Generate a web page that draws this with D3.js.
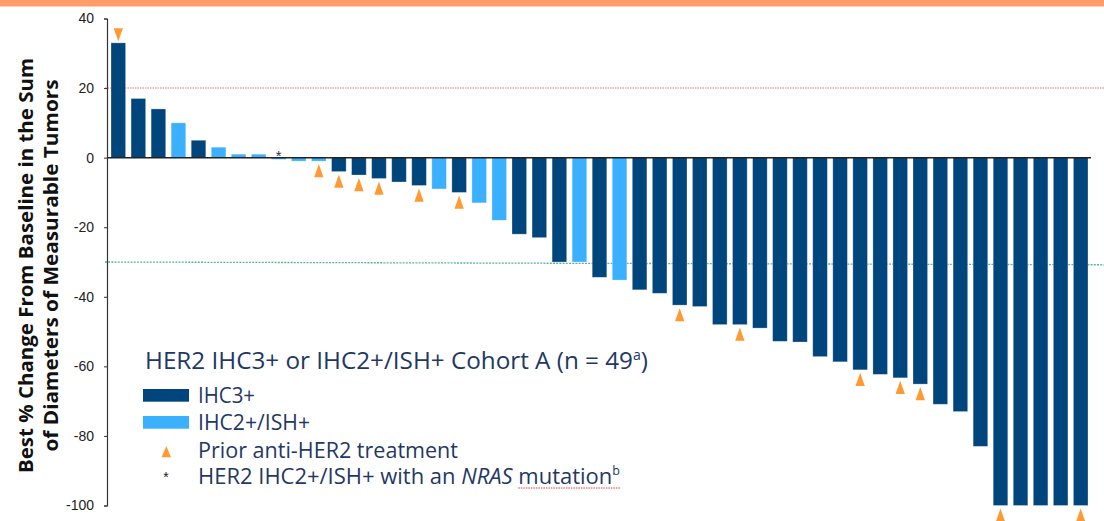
<!DOCTYPE html>
<html>
<head>
<meta charset="utf-8">
<script src="https://cdn.jsdelivr.net/npm/d3@7"></script>
<style>
  html, body { margin: 0; padding: 0; background: #fff; }
  svg { display: block; }
</style>
</head>
<body>
<svg id="chart" width="1104" height="521"></svg>
<script>
// ---- Data ----
const patients = d3.range(1, 50);
const bestChange = [33, 17, 14, 10, 5, 3, 1, 1, -0.5, -1,
  -1, -4, -5, -6, -7, -8, -9, -10, -13, -18,
  -22, -23, -30, -30, -34.4, -35.2, -38, -39, -42.4, -42.8,
  -48, -48, -49, -52.8, -53, -57.2, -58.7, -61, -62.3, -63.3,
  -65.1, -70.9, -73, -83, -100, -100, -100, -100, -100];
const her2Status = ["IHC3+", "IHC3+", "IHC3+", "IHC2+/ISH+", "IHC3+", "IHC2+/ISH+", "IHC2+/ISH+", "IHC2+/ISH+", "IHC2+/ISH+", "IHC2+/ISH+",
  "IHC2+/ISH+", "IHC3+", "IHC3+", "IHC3+", "IHC3+", "IHC3+", "IHC2+/ISH+", "IHC3+", "IHC2+/ISH+", "IHC2+/ISH+",
  "IHC3+", "IHC3+", "IHC3+", "IHC2+/ISH+", "IHC3+", "IHC2+/ISH+", "IHC3+", "IHC3+", "IHC3+", "IHC3+",
  "IHC3+", "IHC3+", "IHC3+", "IHC3+", "IHC3+", "IHC3+", "IHC3+", "IHC3+", "IHC3+", "IHC3+",
  "IHC3+", "IHC3+", "IHC3+", "IHC3+", "IHC3+", "IHC3+", "IHC3+", "IHC3+", "IHC3+"];
const priorAntiHER2 = [1, 0, 0, 0, 0, 0, 0, 0, 0, 0,
  1, 1, 1, 1, 0, 1, 0, 1, 0, 0,
  0, 0, 0, 0, 0, 0, 0, 0, 1, 0,
  0, 1, 0, 0, 0, 0, 0, 1, 0, 1,
  1, 0, 0, 0, 1, 0, 0, 0, 1];
const nrasMutation = [0, 0, 0, 0, 0, 0, 0, 0, 1, 0,
  0, 0, 0, 0, 0, 0, 0, 0, 0, 0,
  0, 0, 0, 0, 0, 0, 0, 0, 0, 0,
  0, 0, 0, 0, 0, 0, 0, 0, 0, 0,
  0, 0, 0, 0, 0, 0, 0, 0, 0];
const yTicks = [40, 20, 0, -20, -40, -60, -80, -100];
const legendTitle = "HER2 IHC3+ or IHC2+/ISH+ Cohort A (n = 49";
const legendItems = ["IHC3+", "IHC2+/ISH+", "Prior anti-HER2 treatment"];

const data = patients.map((p, i) => ({
  id: p, value: bestChange[i], status: her2Status[i],
  prior: !!priorAntiHER2[i], nras: !!nrasMutation[i]
}));

// ---- Styles ----
const DARK = "#00457c", LIGHT = "#3bb0ff", ORANGE = "#ff9a33", NAVY = "#1f3864";
const color = d3.scaleOrdinal().domain(["IHC3+", "IHC2+/ISH+"]).range([DARK, LIGHT]);

const svg = d3.select("#chart");

// top orange band
svg.append("rect").attr("x", 0).attr("y", 0).attr("width", 1104).attr("height", 6.5).attr("fill", "#ff9c68");

const x = d3.scaleBand().domain(patients).range([107, 1092]).paddingInner(0.272).paddingOuter(0.2);
const y = d3.scaleLinear().domain([-100, 40]).range([505.5, 18.5]);

// reference lines
svg.append("line").attr("x1", 105).attr("x2", 1104).attr("y1", y(20)).attr("y2", y(20))
  .attr("stroke", "#eea3a3").attr("stroke-width", 1.6).attr("stroke-dasharray", "1.5,1");
svg.append("line").attr("x1", 105).attr("x2", 1104).attr("y1", y(-30)).attr("y2", y(-30.8))
  .attr("stroke", "#5bb39a").attr("stroke-width", 1.3).attr("stroke-dasharray", "2,1.2");

// bars
svg.append("g").selectAll("rect").data(data).join("rect")
  .attr("x", d => x(d.id))
  .attr("width", x.bandwidth())
  .attr("y", d => y(Math.max(0, d.value)))
  .attr("height", d => Math.abs(y(d.value) - y(0)))
  .attr("fill", d => color(d.status))
  .attr("stroke", "rgba(255,255,255,0.35)")
  .attr("stroke-width", 0.8);

// zero line
svg.append("line").attr("x1", 107).attr("x2", 1091).attr("y1", y(0)).attr("y2", y(0))
  .attr("stroke", "#222").attr("stroke-width", 1.5);

// y axis
const yAxis = d3.axisLeft(y).tickValues(yTicks).tickSize(3).tickPadding(10).tickFormat(d => String(d));
const gy = svg.append("g").attr("transform", "translate(107,0)").call(yAxis);
gy.select(".domain").attr("stroke", "#333").attr("stroke-width", 1.2);
gy.selectAll(".tick line").attr("stroke", "#333");
gy.selectAll(".tick text").attr("font-family", "Liberation Sans, Arial, sans-serif")
  .attr("font-size", 14).attr("fill", "#222");

// triangles for prior anti-HER2 treatment
const triW = 9.3, triH = 13.2;
const tri = svg.append("g");
data.filter(d => d.prior).forEach(d => {
  const cx = x(d.id) + x.bandwidth() / 2;
  let pts;
  if (d.value > 0) {
    const yb = y(d.value) - 1.5;
    pts = [[cx - triW / 2, yb - triH], [cx + triW / 2, yb - triH], [cx, yb]];
  } else {
    const yt = y(d.value) + 3;
    pts = [[cx, yt], [cx + triW / 2, yt + triH], [cx - triW / 2, yt + triH]];
  }
  tri.append("polygon").attr("points", pts.map(p => p.join(",")).join(" ")).attr("fill", ORANGE);
});

// asterisk for NRAS mutation
data.filter(d => d.nras).forEach(d => {
  svg.append("text").attr("x", x(d.id) + x.bandwidth() / 2).attr("y", y(0) + 3)
    .attr("text-anchor", "middle").attr("font-family", "Liberation Sans, Arial, sans-serif")
    .attr("font-size", 15).attr("fill", "#333").text("*");
});

// y axis label
const yl = ["Best % Change From Baseline in the Sum", "of Diameters of Measurable Tumors"];
[[33, yl[0], 415], [58, yl[1], 372]].forEach(([bx, t, len]) => {
  svg.append("text").attr("transform", `translate(${bx},265.5) rotate(-90)`)
    .attr("text-anchor", "middle").attr("font-family", "Open Sans, sans-serif")
    .attr("font-weight", 700).attr("font-size", 20).attr("fill", "#111")
    .attr("textLength", len).attr("lengthAdjust", "spacingAndGlyphs").text(t);
});

// legend
const lf = "Open Sans, sans-serif";
const title = svg.append("text").attr("x", 145).attr("y", 369)
  .attr("font-family", lf).attr("font-size", 24).attr("fill", NAVY)
  .attr("textLength", 503).attr("lengthAdjust", "spacingAndGlyphs");
title.append("tspan").text(legendTitle);
title.append("tspan").attr("font-size", 14).attr("dy", -9).text("a");
title.append("tspan").attr("dy", 9).text(")");

svg.append("rect").attr("x", 143).attr("y", 389).attr("width", 46).attr("height", 12.7).attr("fill", color("IHC3+"));
svg.append("rect").attr("x", 143).attr("y", 416).attr("width", 46).attr("height", 12.7).attr("fill", color("IHC2+/ISH+"));
svg.append("polygon").attr("points", "166.3,446 171,457.3 161.6,457.3").attr("fill", ORANGE);
svg.append("text").attr("x", 166).attr("y", 482).attr("text-anchor", "middle")
  .attr("font-family", "Liberation Sans, Arial, sans-serif").attr("font-size", 14).attr("fill", "#222").text("*");

const itemY = [402.5, 430, 458];
const itemLen = [57, 112, 260];
legendItems.forEach((t, i) => {
  svg.append("text").attr("x", 198).attr("y", itemY[i]).attr("font-family", lf)
    .attr("font-size", 21).attr("fill", NAVY)
    .attr("textLength", itemLen[i]).attr("lengthAdjust", "spacingAndGlyphs").text(t);
});
const last = svg.append("text").attr("x", 198).attr("y", 483.5).attr("font-family", lf)
  .attr("font-size", 21).attr("fill", NAVY)
  .attr("textLength", 422).attr("lengthAdjust", "spacingAndGlyphs");
last.append("tspan").text("HER2 IHC2+/ISH+ with an ");
last.append("tspan").attr("font-style", "italic").text("NRAS");
last.append("tspan").text(" ");
last.append("tspan").text("mutation");
last.append("tspan").attr("font-size", 12).attr("dy", -9).text("b");

// spell-check style underline under "mutation"
const bb = last.node().getBBox();
const startX = last.node().getStartPositionOfChar("HER2 IHC2+/ISH+ with an NRAS ".length).x;
const endX = bb.x + bb.width;
svg.append("line").attr("x1", startX).attr("x2", endX).attr("y1", 488).attr("y2", 488)
  .attr("stroke", "#e8393a").attr("stroke-width", 1.1).attr("stroke-dasharray", "1.5,1");
</script>
</body>
</html>
